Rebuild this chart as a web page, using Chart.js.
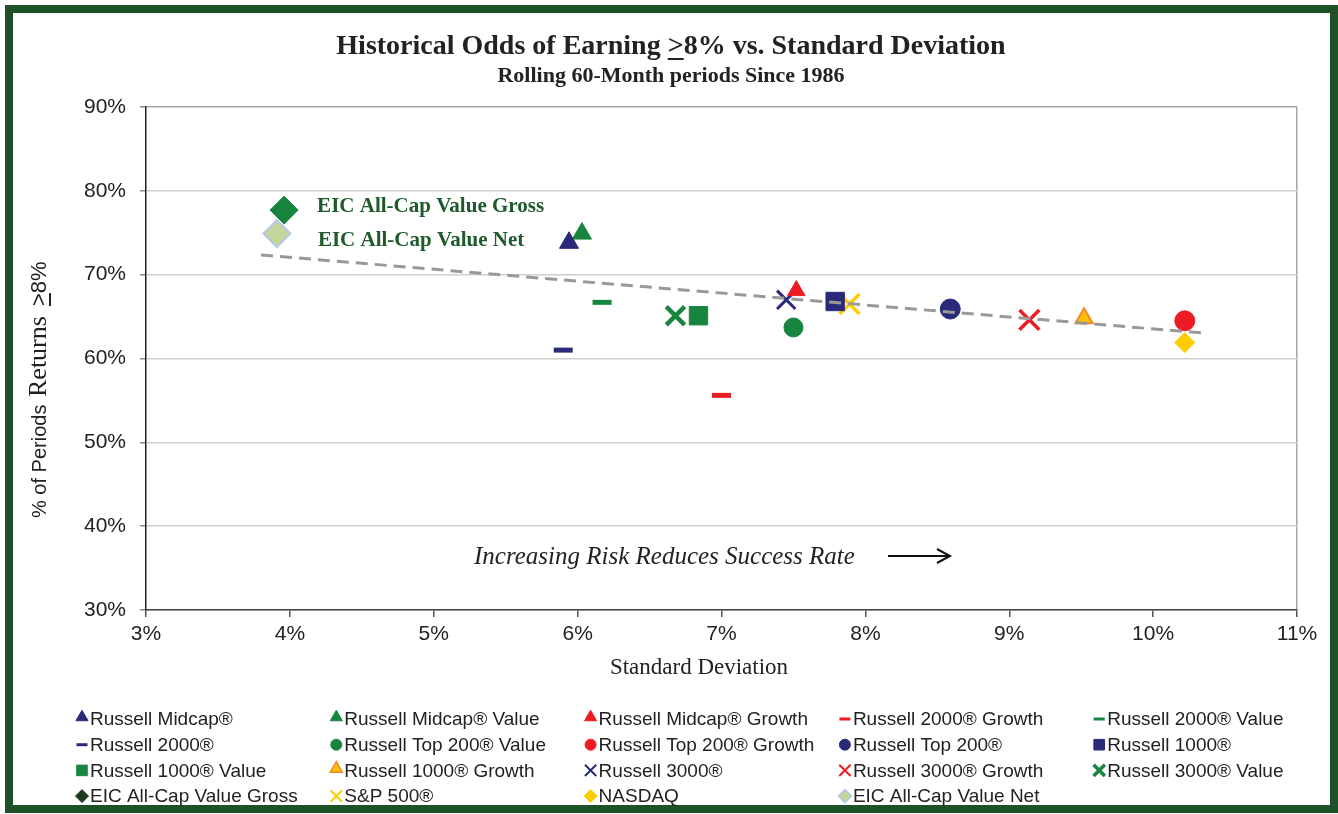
<!DOCTYPE html>
<html>
<head>
<meta charset="utf-8">
<script src="https://cdn.jsdelivr.net/npm/chart.js@4.4.0/dist/chart.umd.min.js"></script>
<style>
html, body { margin: 0; padding: 0; background: #fff; }
canvas { display: block; }
</style>
</head>
<body>
<canvas id="oddsChart" width="1338" height="814"></canvas>
<script>
// series, in legend order
const seriesNames = [
  'Russell Midcap®', 'Russell Midcap® Value', 'Russell Midcap® Growth', 'Russell 2000® Growth', 'Russell 2000® Value',
  'Russell 2000®', 'Russell Top 200® Value', 'Russell Top 200® Growth', 'Russell Top 200®', 'Russell 1000®',
  'Russell 1000® Value', 'Russell 1000® Growth', 'Russell 3000®', 'Russell 3000® Growth', 'Russell 3000® Value',
  'EIC All-Cap Value Gross', 'S&P 500®', 'NASDAQ', 'EIC All-Cap Value Net'
];
// standard deviation (%)
const stdDev = [5.94, 6.03, 7.52, 7.00, 6.17, 5.90, 7.50, 10.22, 8.59, 7.79, 6.84, 9.52, 7.45, 9.14, 6.68, 3.96, 7.89, 10.22, 3.91];
// % of periods returning >=8%
const oddsPct = [73.8, 74.9, 68.1, 55.6, 66.7, 61.0, 63.7, 64.5, 65.9, 66.8, 65.1, 64.8, 67.0, 64.6, 65.1, 77.7, 66.5, 61.9, 74.9];
// dashed trend line
const trendX = [3.8, 10.34];
const trendY = [72.35, 63.05];
// axis ticks
const xTickVals = [3, 4, 5, 6, 7, 8, 9, 10, 11];
const yTickVals = [30, 40, 50, 60, 70, 80, 90];

const SANS = "'Liberation Sans', Arial, sans-serif";
const SERIF = "'Liberation Serif', 'Times New Roman', serif";
const NAVY = '#2a2a7b', GREEN = '#17853f', RED = '#ed1c24', YELLOW = '#ffcc00';

// marker look for each series (chart size r, legend size lr)
const marks = [
  { style: 'triangle', fill: NAVY, r: 11, lr: 7 },
  { style: 'triangle', fill: GREEN, r: 11, lr: 7 },
  { style: 'triangle', fill: RED, r: 10, lr: 7 },
  { style: 'line', stroke: RED, r: 9.5, w: 5, lr: 5.5, lw: 3 },
  { style: 'line', stroke: GREEN, r: 9.5, w: 5, lr: 5.5, lw: 3 },
  { style: 'line', stroke: NAVY, r: 9.5, w: 5, lr: 5.5, lw: 3 },
  { style: 'circle', fill: GREEN, r: 9.5, lr: 5.5 },
  { style: 'circle', fill: RED, r: 10, lr: 5.5 },
  { style: 'circle', fill: NAVY, r: 10, lr: 5.5 },
  { style: 'rect', fill: NAVY, r: 13, lr: 7.5 },
  { style: 'rect', fill: GREEN, r: 13, lr: 7.5 },
  { style: 'triangle', fill: '#ffc000', stroke: '#f0892b', r: 10, w: 2, lr: 7 },
  { style: 'crossRot', stroke: NAVY, r: 13, w: 3, lr: 8, lw: 2 },
  { style: 'crossRot', stroke: RED, r: 14, w: 3.5, lr: 8, lw: 2 },
  { style: 'crossRot', stroke: GREEN, r: 13, w: 4.5, lr: 8, lw: 3.5 },
  { style: 'rectRot', fill: GREEN, r: 14, lr: 6.5, lfill: '#1c3a1e' },
  { style: 'crossRot', stroke: YELLOW, r: 14, w: 3.5, lr: 8, lw: 2 },
  { style: 'rectRot', fill: YELLOW, r: 10, lr: 6.5 },
  { style: 'rectRot', fill: '#c4d79b', stroke: '#b4c7e7', r: 13.5, w: 2, lr: 6.5 }
];

const datasets = seriesNames.map((name, i) => {
  const m = marks[i];
  return {
    label: name,
    data: [{ x: stdDev[i], y: oddsPct[i] }],
    pointStyle: m.style,
    pointRadius: m.r,
    pointHoverRadius: m.r,
    pointBackgroundColor: m.fill || m.stroke,
    pointBorderColor: m.stroke || m.fill,
    pointBorderWidth: m.w || 1,
    order: 1
  };
});
datasets.push({
  type: 'line',
  label: 'trend',
  data: trendX.map((x, i) => ({ x: x, y: trendY[i] })),
  borderColor: '#999999',
  borderWidth: 3,
  borderDash: [12, 7],
  pointRadius: 0,
  fill: false,
  order: 0
});

function mark(ctx, style, x, y, r, w, fill, stroke) {
  ctx.save();
  ctx.fillStyle = fill;
  ctx.strokeStyle = stroke;
  ctx.lineWidth = w;
  Chart.helpers.drawPoint(ctx, { pointStyle: style, radius: r, borderWidth: w, rotation: 0 }, x, y);
  ctx.restore();
}

const decor = {
  id: 'decor',
  beforeDraw(chart) {
    const ctx = chart.ctx;
    ctx.save();
    ctx.fillStyle = '#fff';
    ctx.fillRect(0, 0, chart.width, chart.height);
    ctx.strokeStyle = '#1e5128';
    ctx.lineWidth = 8;
    ctx.strokeRect(9, 9, 1325, 800);
    ctx.restore();
  },
  afterDraw(chart) {
    const ctx = chart.ctx;
    const xs = chart.scales.x, ys = chart.scales.y;
    ctx.save();
    ctx.fillStyle = '#222';
    ctx.textBaseline = 'alphabetic';

    // title with underlined ">"
    const title = 'Historical Odds of Earning >8% vs. Standard Deviation';
    ctx.font = 'bold 28px ' + SERIF;
    ctx.textAlign = 'left';
    const tw = ctx.measureText(title).width;
    const tx = 671 - tw / 2;
    ctx.fillText(title, tx, 54);
    const pre = ctx.measureText('Historical Odds of Earning ').width;
    const gt = ctx.measureText('>').width;
    ctx.fillRect(tx + pre, 58, gt, 2);

    ctx.font = 'bold 22px ' + SERIF;
    ctx.textAlign = 'center';
    ctx.fillText('Rolling 60-Month periods Since 1986', 671, 82);

    // x title
    ctx.font = '23px ' + SERIF;
    ctx.fillText('Standard Deviation', 699, 674);

    // y title (mixed fonts)
    ctx.save();
    ctx.translate(46, 518);
    ctx.rotate(-Math.PI / 2);
    ctx.textAlign = 'left';
    ctx.font = '20px ' + SANS;
    ctx.fillText('% of Periods', 0, 0);
    ctx.font = '26px ' + SERIF;
    ctx.fillText('Returns', 121, 0);
    ctx.font = '22px ' + SANS;
    ctx.fillText('>8%', 212, 0);
    const g2 = ctx.measureText('>').width;
    ctx.fillRect(212, 3, g2, 2);
    ctx.restore();

    // annotation and arrow
    ctx.font = 'italic 25px ' + SERIF;
    ctx.textAlign = 'left';
    ctx.fillText('Increasing Risk Reduces Success Rate', 474, 564);
    ctx.strokeStyle = '#111';
    ctx.lineWidth = 2;
    ctx.beginPath();
    ctx.moveTo(888, 556); ctx.lineTo(950, 556);
    ctx.moveTo(937, 549); ctx.lineTo(950, 556); ctx.lineTo(937, 563);
    ctx.stroke();

    // labels next to the EIC points
    ctx.font = 'bold 21px ' + SERIF;
    ctx.fillStyle = '#1f5a2c';
    ctx.fillText(seriesNames[15], xs.getPixelForValue(stdDev[15]) + 33, ys.getPixelForValue(oddsPct[15]) + 2);
    ctx.fillText(seriesNames[18], xs.getPixelForValue(stdDev[18]) + 41, ys.getPixelForValue(oddsPct[18]) + 12);

    // legend grid, 5 columns
    ctx.font = '19px ' + SANS;
    ctx.textBaseline = 'middle';
    seriesNames.forEach((name, i) => {
      const m = marks[i];
      const col = i % 5, row = Math.floor(i / 5);
      const mx = 82 + col * 254.3;
      const my = 719 + row * 25.7;
      const off = m.style === 'triangle' ? m.lr / 4 : 0;
      const f = m.lfill || m.fill || m.stroke;
      const s = m.lfill || m.stroke || m.fill;
      mark(ctx, m.style, mx, my - off, m.lr, m.lw || (m.w ? 1.5 : 1), f, s);
      ctx.fillStyle = '#222';
      ctx.fillText(name, mx + 8, my + 1);
    });
    ctx.restore();
  }
};

new Chart(document.getElementById('oddsChart'), {
  type: 'scatter',
  data: { datasets: datasets },
  options: {
    responsive: false,
    animation: false,
    layout: { padding: { left: 0, top: 107, right: 41, bottom: 144 } },
    plugins: { legend: { display: false }, tooltip: { enabled: false }, title: { display: false } },
    scales: {
      x: {
        type: 'linear',
        min: 3,
        max: 11,
        afterBuildTicks: s => { s.ticks = xTickVals.map(v => ({ value: v })); },
        afterFit: s => { s.height = 60; },
        ticks: { callback: v => v + '%', color: '#222', font: { family: SANS, size: 21 }, padding: 5, maxRotation: 0 },
        grid: {
          color: c => (c.tick && c.tick.value === 11) ? '#a6a6a6' : 'rgba(0,0,0,0)',
          tickColor: '#555',
          tickLength: 7,
          lineWidth: 1.5
        },
        border: { color: '#444', width: 1.5 }
      },
      y: {
        min: 30,
        max: 90,
        afterBuildTicks: s => { s.ticks = yTickVals.map(v => ({ value: v })); },
        afterFit: s => { s.width = 146; },
        ticks: { callback: v => v + '%', color: '#222', font: { family: SANS, size: 21 }, padding: 14 },
        grid: {
          color: c => (c.tick && c.tick.value === 90) ? '#a6a6a6' : '#cfcfcf',
          tickColor: '#888',
          tickLength: 6,
          lineWidth: 1.5
        },
        border: { color: '#222', width: 1.5 }
      }
    }
  },
  plugins: [decor]
});
</script>
</body>
</html>
